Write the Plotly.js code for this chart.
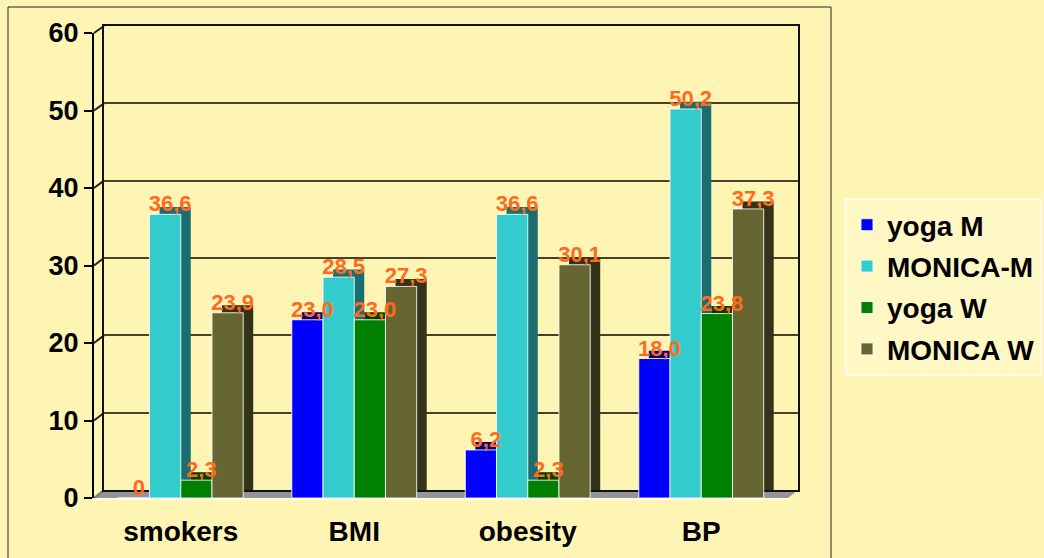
<!DOCTYPE html>
<html>
<head>
<meta charset="utf-8">
<script src="https://cdn.plot.ly/plotly-3.0.1.min.js"></script>
<style>html,body{margin:0;padding:0;background:#FEF4B4;}#chart{width:1044px;height:558px;}</style>
</head>
<body>
<div id="chart"></div>
<script>
// ---- data ----
const categories = ['smokers', 'BMI', 'obesity', 'BP'];
const seriesNames = ['yoga M', 'MONICA-M', 'yoga W', 'MONICA W'];
const yogaM    = [0, 23.0, 6.2, 18.0];
const monicaM  = [36.6, 28.5, 36.6, 50.2];
const yogaW    = [2.3, 23.0, 2.3, 23.8];
const monicaW  = [23.9, 27.3, 30.1, 37.3];
const yTicks   = [0, 10, 20, 30, 40, 50, 60];

// ---- styling ----
const frontColors = ['#0000FF', '#33CCCC', '#008000', '#666633'];
const sideColors  = ['#00007A', '#1B6E70', '#003F00', '#33331A'];
const W = 1044, H = 558;
const fx = p => p / W, fy = p => 1 - p / H;
const back  = {l: 104, r: 798, b: 490, t: 26};
const front = {l: 94,  r: 788, b: 498, t: 33};
const txt   = {l: 99,  r: 793, b: 503, t: 38};

const series = [yogaM, monicaM, yogaW, monicaW];
const xIdx = categories.map((c, i) => i);
const fmt = v => v === 0 ? '0' : v.toFixed(1).replace('.', ',');

const traces = [];
series.forEach((vals, j) => {
  traces.push({type: 'bar', x: xIdx, y: vals, xaxis: 'x', yaxis: 'y',
    marker: {color: sideColors[j]}, showlegend: false, hoverinfo: 'skip'});
});
series.forEach((vals, j) => {
  traces.push({type: 'bar', x: xIdx, y: vals, xaxis: 'x2', yaxis: 'y2', name: seriesNames[j],
    legendgroup: 'g' + j,
    marker: {color: frontColors[j], line: {color: 'rgba(255,255,255,0.85)', width: 1}}});
});
series.forEach((vals, j) => {
  traces.push({type: 'bar', x: xIdx, y: vals, xaxis: 'x3', yaxis: 'y3', showlegend: false,
    marker: {color: 'rgba(0,0,0,0)'}, text: vals.map(fmt), textposition: 'outside',
    constraintext: 'none', cliponaxis: false, hoverinfo: 'skip',
    textfont: {family: 'Arial, Liberation Sans, sans-serif', size: 22, weight: 'bold', color: '#FF6A1F'}});
});

const xr = [-0.5, 3.5], yr = [0, 60];
const shapes = [];
// floor
shapes.push({type: 'path', xref: 'paper', yref: 'paper', layer: 'below',
  path: `M ${fx(front.l)} ${fy(front.b)} L ${fx(front.r)} ${fy(front.b)} L ${fx(back.r)} ${fy(back.b)} L ${fx(back.l)} ${fy(back.b)} Z`,
  fillcolor: '#959595', line: {width: 0}});
shapes.push({type: 'line', xref: 'paper', yref: 'paper', layer: 'below',
  x0: fx(front.l), x1: fx(front.r), y0: fy(front.b + 1), y1: fy(front.b + 1), line: {color: '#FFFFF0', width: 2}});
// left wall connectors
yTicks.forEach(v => {
  const yf = front.b - (front.b - front.t) * v / 60;
  const yb = back.b - (back.b - back.t) * v / 60;
  shapes.push({type: 'line', xref: 'paper', yref: 'paper', layer: 'below',
    x0: fx(front.l), y0: fy(yf), x1: fx(back.l), y1: fy(yb),
    line: {color: v === 0 ? '#777' : '#222', width: 2}});
});
// outer border
shapes.push({type: 'rect', xref: 'paper', yref: 'paper', layer: 'below',
  x0: fx(8), x1: fx(831), y0: fy(7), y1: fy(570), line: {color: '#222', width: 1}});

const font = {family: 'Arial, Liberation Sans, sans-serif', weight: 'bold', color: '#000'};

const layout = {
  width: W, height: H,
  margin: {l: 0, r: 0, t: 0, b: 0},
  paper_bgcolor: '#FEF4B4', plot_bgcolor: 'rgba(0,0,0,0)',
  barmode: 'group', bargap: 0.28, bargroupgap: 0,
  showlegend: true,
  xaxis:  {domain: [fx(back.l), fx(back.r)], range: xr, showgrid: false, zeroline: false,
           showticklabels: false, ticks: '', showline: true, mirror: true, linecolor: '#111', linewidth: 2, fixedrange: true},
  yaxis:  {domain: [fy(back.b), fy(back.t)], range: yr, tickvals: yTicks, showticklabels: false, ticks: '',
           showgrid: true, gridcolor: '#45422A', gridwidth: 2, zeroline: false,
           showline: true, mirror: true, linecolor: '#111', linewidth: 2, fixedrange: true},
  xaxis2: {domain: [fx(front.l), fx(front.r)], range: xr, anchor: 'y2', tickvals: xIdx, ticktext: categories,
           showgrid: false, zeroline: false, ticks: '', showline: false, ticklabelstandoff: 14,
           tickfont: Object.assign({size: 28}, font), fixedrange: true},
  yaxis2: {domain: [fy(front.b), fy(front.t)], range: yr, anchor: 'x2', tickvals: yTicks,
           showgrid: false, zeroline: false, showline: true, linecolor: '#000', linewidth: 2,
           ticks: 'outside', ticklen: 8, tickwidth: 2, tickcolor: '#000', ticklabelstandoff: 0,
           tickfont: Object.assign({size: 27}, font), fixedrange: true},
  xaxis3: {domain: [fx(txt.l), fx(txt.r)], range: xr, anchor: 'y3', visible: false, fixedrange: true},
  yaxis3: {domain: [fy(txt.b), fy(txt.t)], range: yr, anchor: 'x3', visible: false, fixedrange: true},
  legend: {x: fx(845), y: fy(198), xanchor: 'left', yanchor: 'top',
           bgcolor: '#FFF7C4', bordercolor: '#FFFDE8', borderwidth: 2,
           font: Object.assign({size: 28}, font), tracegroupgap: 2, traceorder: 'grouped',
           itemclick: false, itemdoubleclick: false},
  shapes: shapes
};

Plotly.newPlot('chart', traces, layout, {displayModeBar: false, staticPlot: true});
</script>
</body>
</html>
